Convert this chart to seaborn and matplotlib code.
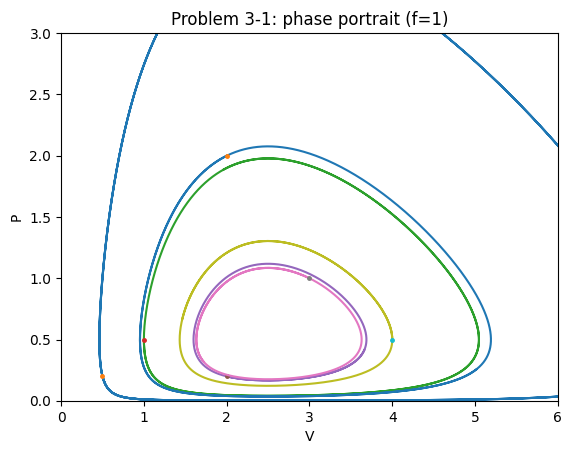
import matplotlib
matplotlib.use("Agg")
import matplotlib.pyplot as plt
import numpy as np
import pandas as pd
import seaborn as sns

# Lotka-Volterra style model: dV/dt = V(a - bP), dP/dt = P(dV - c), f = 1
a, b, c, d = 1.0, 2.0, 5.0, 2.0

# initial conditions (plotting order)
V0 = [0.5, 1.0, 2.0, 3.0, 4.0, 2.0]
P0 = [0.2, 0.5, 0.2, 1.0, 0.5, 2.0]
t_end = [14.0, 6.0, 4.0, 4.0, 4.0, 6.0]

palette = sns.color_palette("tab10")


def rhs(v, p):
    return v * (a - b * p), p * (d * v - c)


def trajectory(v, p, t_max, dt=0.0005):
    vs, ps = [v], [p]
    for _ in range(int(t_max / dt)):
        k1v, k1p = rhs(v, p)
        k2v, k2p = rhs(v + 0.5 * dt * k1v, p + 0.5 * dt * k1p)
        k3v, k3p = rhs(v + 0.5 * dt * k2v, p + 0.5 * dt * k2p)
        k4v, k4p = rhs(v + dt * k3v, p + dt * k3p)
        v = v + dt / 6 * (k1v + 2 * k2v + 2 * k3v + k4v)
        p = p + dt / 6 * (k1p + 2 * k2p + 2 * k3p + k4p)
        vs.append(v)
        ps.append(p)
    return pd.DataFrame({"V": vs, "P": ps})


fig, ax = plt.subplots(figsize=(5.71, 4.55), dpi=100)
fig.subplots_adjust(left=0.107, right=0.977, top=0.927, bottom=0.119)

for i, (v, p, tm) in enumerate(zip(V0, P0, t_end)):
    df = trajectory(v, p, tm)
    sns.lineplot(data=df, x="V", y="P", sort=False, estimator=None,
                 color=palette[(2 * i) % 10], linewidth=1.5, ax=ax)
    ax.plot([v], [p], "o", color=palette[(2 * i + 1) % 10], markersize=2.5)

ax.set_xlim(0, 6)
ax.set_ylim(0, 3)
ax.set_xlabel("V")
ax.set_ylabel("P")
ax.set_title("Problem 3-1: phase portrait (f=1)")
fig.savefig("out.png", dpi=100)
